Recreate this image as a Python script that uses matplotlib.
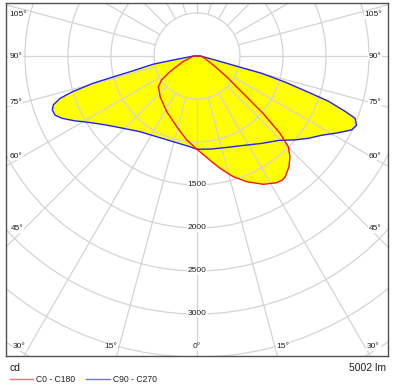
import numpy as np
import matplotlib
matplotlib.use("Agg")
import matplotlib.pyplot as plt
from matplotlib.patches import Circle, Polygon

plt.rcParams['font.family'] = ['Liberation Sans', 'DejaVu Sans']

# curvas fotometricas (gamma en grados, intensidad en cd)
c0_gamma = [0, 7, 11.6, 16.7, 21.6, 27.3, 32.2, 34.5, 36.1, 39.7, 42.7, 45.2, 47, 49, 51, 55, 61, 78, 90]
c0_cd = [1085, 1219, 1333, 1465, 1572, 1679, 1741, 1750, 1740, 1674, 1594, 1496, 1319, 1019, 691,
         421, 217, 75, 40]

c180_gamma = [0, 7, 16, 28.5, 42, 48, 51.5, 56, 60, 68, 90]
c180_cd = [1085, 984, 855, 737, 640, 593, 574, 496, 363, 176, 40]

c90_gamma = [0, 9, 19, 28, 36.5, 44, 49.5, 53.5, 57.5, 61.5, 64.5, 66.5, 68.5, 69.5,
             71, 72, 73.5, 75, 75.5, 77.5, 90]
c90_cd = [1085, 1095, 1122, 1176, 1264, 1365, 1501, 1610, 1716, 1870, 1994, 2023, 1975, 1839,
          1617, 1359, 1066, 779, 496, 214, 40]

c270_gamma = [0, 4.5, 15.5, 26.5, 37, 45.5, 52.5, 56.6, 60, 62, 65.3, 67.4, 69.5, 71.2, 72.8,
              74, 75.3, 76, 77, 79.4, 80.4, 90]
c270_cd = [1085, 1058, 1034, 1049, 1102, 1200, 1321, 1421, 1527, 1607, 1732, 1788, 1796, 1765, 1667,
           1505, 1247, 1003, 760, 519, 280, 40]

anillos = [500, 1000, 1500, 2000, 2500, 3000, 3500, 4000]
anillos_etiqueta = [1500, 2000, 2500, 3000]
flujo = "5002 lm"

# geometria en pixeles de la figura
W, H = 393, 386
CX, CY = 197, 56          # centro del diagrama
S = 0.086                 # px por cd
L, R, T, B = 5.5, 387.5, 3.3, 356


def px2d(px, py):
    return (px - CX) / S, (CY - py) / S


def curva(g_der, i_der, g_izq, i_izq):
    gd = np.radians(g_der)
    gi = np.radians(g_izq)[::-1]
    xd = np.array(i_der) * np.sin(gd)
    yd = -np.array(i_der) * np.cos(gd)
    xi = -np.array(i_izq)[::-1] * np.sin(gi)
    yi = -np.array(i_izq)[::-1] * np.cos(gi)
    x = np.concatenate([xd, xi, xd[:1]])
    y = np.concatenate([yd, yi, yd[:1]])
    return x, y


fig = plt.figure(figsize=(W / 100, H / 100), dpi=100)
ax = fig.add_axes([L / W, (H - B) / H, (R - L) / W, (B - T) / H])
x0, y1 = px2d(L, T)
x1, y0 = px2d(R, B)
ax.set_xlim(x0, x1)
ax.set_ylim(y0, y1)
ax.set_xticks([])
ax.set_yticks([])
for sp in ax.spines.values():
    sp.set_color("#505050")
    sp.set_linewidth(1)

xr, yr = curva(c0_gamma, c0_cd, c180_gamma, c180_cd)
xb, yb = curva(c90_gamma, c90_cd, c270_gamma, c270_cd)

# relleno amarillo
ax.add_patch(Polygon(np.column_stack([xb, yb]), closed=True, facecolor="#FFFF00", edgecolor="none", zorder=1))
ax.add_patch(Polygon(np.column_stack([xr, yr]), closed=True, facecolor="#FFFF00", edgecolor="none", zorder=1))

# rejilla
gris = "#D4D4D4"
for r in anillos:
    ax.add_patch(Circle((0, 0), r, fill=False, edgecolor=gris, linewidth=0.9, zorder=2))
for a in range(0, 360, 15):
    t = np.radians(a)
    ax.plot([500 * np.sin(t), 6000 * np.sin(t)], [-500 * np.cos(t), -6000 * np.cos(t)],
            color=gris, linewidth=0.9, zorder=2)

ax.plot(xb, yb, color="#2020FF", linewidth=1.0, zorder=3, solid_joinstyle="round")
ax.plot(xr, yr, color="#FF1010", linewidth=1.0, zorder=3, solid_joinstyle="round")

# etiquetas de intensidad
for r in anillos_etiqueta:
    ax.text(0, -r, str(r), fontsize=6, ha="center", va="center", color="#202020", zorder=4,
            bbox=dict(facecolor="white", edgecolor="none", pad=0.6))

# etiquetas de angulo (texto, x px, y px)
etiquetas_ang = [("105°", 18.5, 15), ("90°", 15.5, 56), ("75°", 15.5, 102), ("60°", 15.5, 156),
                 ("45°", 17, 229), ("30°", 19.5, 347), ("15°", 110.5, 347), ("0°", 197, 347),
                 ("15°", 283, 347), ("30°", 373.5, 347), ("45°", 375, 229), ("60°", 375, 156),
                 ("75°", 375, 102), ("90°", 375, 56), ("105°", 373.5, 15)]
for txt, px, py in etiquetas_ang:
    dx, dy = px2d(px, py)
    ax.text(dx, dy, txt, fontsize=6, ha="center", va="center", color="#202020", zorder=4,
            bbox=dict(facecolor="white", edgecolor="none", pad=0.6))

# textos inferiores y leyenda
fig.text(10 / W, 1 - 368 / H, "cd", fontsize=7.5, ha="left", va="center", color="#202020")
fig.text(386 / W, 1 - 368 / H, flujo, fontsize=7.5, ha="right", va="center", color="#202020")
ly = 1 - 379 / H
fig.add_artist(plt.Line2D([10 / W, 33 / W], [ly, ly], color="#FF7070", linewidth=1.0))
fig.text(36 / W, ly, "C0 - C180", fontsize=6.2, ha="left", va="center", color="#202020")
fig.add_artist(plt.Line2D([86 / W, 110 / W], [ly, ly], color="#7070FF", linewidth=1.0))
fig.text(113 / W, ly, "C90 - C270", fontsize=6.2, ha="left", va="center", color="#202020")

fig.savefig("out.png", dpi=100)
